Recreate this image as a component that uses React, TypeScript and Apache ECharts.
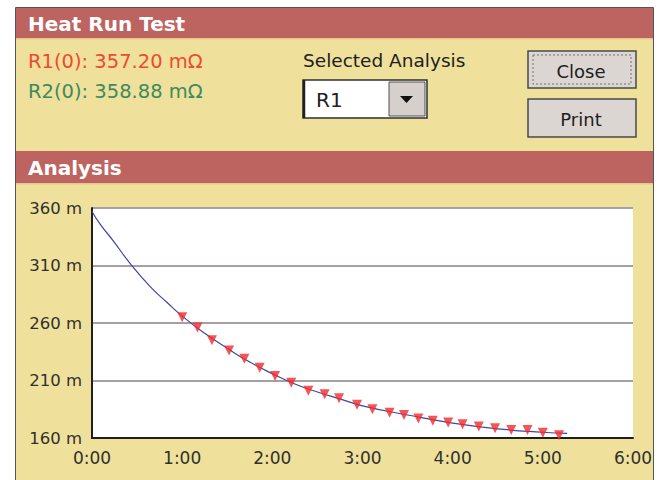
import React, { useEffect, useRef } from "react";
import * as echarts from "echarts";

// Fitted curve (blue line), time in hours, resistance in mΩ
const curveTime = [0, 0.09, 0.24, 0.42, 0.64, 0.83, 1.0, 1.25, 1.5, 1.75, 2.0, 2.25, 2.5, 2.75, 3.0, 3.5, 4.0, 4.5, 5.0, 5.27];
const curveValue = [357, 346, 331, 312, 292, 278, 266, 251, 238, 226, 216, 207, 200, 194, 188, 180, 173, 168, 165, 164];

// Measured points (red markers)
const markerTime = [1.0, 1.17, 1.33, 1.52, 1.69, 1.86, 2.03, 2.21, 2.4, 2.58, 2.74, 2.94, 3.11, 3.3, 3.46, 3.62, 3.78, 3.95, 4.11, 4.29, 4.47, 4.65, 4.83, 5.0, 5.18];
const markerValue = [265, 256, 245, 236, 229, 221, 214, 208, 201, 198, 194.5, 189, 185, 182, 180, 177, 175, 173.5, 172, 170, 168.5, 167, 167, 164.5, 162.5];

const xTickLabels = ["0:00", "1:00", "2:00", "3:00", "4:00", "5:00", "6:00"];
const yTickLabels = ["160 m", "210 m", "260 m", "310 m", "360 m"];
const yBase = 160;

const FONT = "DejaVu Sans";

export default function App() {
  const ref = useRef<HTMLDivElement>(null);
  useEffect(() => {
    if (!ref.current) return;
    const chart = echarts.init(ref.current, null, { renderer: "svg" });
    const curveData = curveTime.map((t, i) => [t, curveValue[i] - yBase]);
    const markerData = markerTime.map((t, i) => [t, markerValue[i] - yBase]);
    chart.setOption({
      animation: false,
      backgroundColor: "#ffffff",
      graphic: [
        // outer frame
        { type: "rect", shape: { x: 15.5, y: 7.5, width: 638, height: 480 }, style: { fill: "#EFE19C", stroke: "#555555", lineWidth: 1 }, z: 0 },
        // title bar
        { type: "rect", shape: { x: 16, y: 8, width: 637, height: 30 }, style: { fill: "#BD6461" }, z: 1 },
        { type: "rect", shape: { x: 16, y: 38, width: 637, height: 1.5 }, style: { fill: "#E4C890" }, z: 1 },
        { type: "text", x: 28, y: 24, style: { text: "Heat Run Test", fill: "#ffffff", font: `bold 20px ${FONT}`, textVerticalAlign: "middle" }, z: 2 },
        // R values
        { type: "text", x: 28, y: 61, style: { text: "R1(0): 357.20 mΩ", fill: "#EE4A32", font: `19.5px ${FONT}`, textVerticalAlign: "middle" }, z: 2 },
        { type: "text", x: 28, y: 91, style: { text: "R2(0): 358.88 mΩ", fill: "#3E8A5C", font: `19.5px ${FONT}`, textVerticalAlign: "middle" }, z: 2 },
        // selected analysis
        { type: "text", x: 303, y: 60, style: { text: "Selected Analysis", fill: "#202020", font: `18.5px ${FONT}`, textVerticalAlign: "middle" }, z: 2 },
        { type: "rect", shape: { x: 303, y: 80, width: 124, height: 38 }, style: { fill: "#ffffff", stroke: "#303030", lineWidth: 1.5 }, z: 2 },
        { type: "line", shape: { x1: 304, y1: 80, x2: 304, y2: 118 }, style: { stroke: "#202020", lineWidth: 2.5 }, z: 3 },
        { type: "text", x: 316, y: 100, style: { text: "R1", fill: "#202020", font: `20px ${FONT}`, textVerticalAlign: "middle" }, z: 3 },
        { type: "rect", shape: { x: 389, y: 82, width: 36, height: 34 }, style: { fill: "#D6D0CC", stroke: "#505050", lineWidth: 1 }, z: 3 },
        { type: "polygon", shape: { points: [[400, 96], [413, 96], [406.5, 103]] }, style: { fill: "#101010" }, z: 4 },
        // buttons
        { type: "rect", shape: { x: 528, y: 51, width: 108, height: 37 }, style: { fill: "#DCD6D2", stroke: "#4A4A4A", lineWidth: 1.5 }, z: 2 },
        { type: "rect", shape: { x: 533, y: 55, width: 98, height: 29 }, style: { fill: "none", stroke: "#707070", lineWidth: 1, lineDash: [2, 2] }, z: 3 },
        { type: "text", x: 581, y: 71, style: { text: "Close", fill: "#202020", font: `18px ${FONT}`, textAlign: "center", textVerticalAlign: "middle" }, z: 3 },
        { type: "rect", shape: { x: 528, y: 99, width: 108, height: 38 }, style: { fill: "#DCD6D2", stroke: "#4A4A4A", lineWidth: 1.5 }, z: 2 },
        { type: "text", x: 581, y: 119, style: { text: "Print", fill: "#202020", font: `18px ${FONT}`, textAlign: "center", textVerticalAlign: "middle" }, z: 3 },
        // analysis bar
        { type: "rect", shape: { x: 16, y: 151, width: 637, height: 32 }, style: { fill: "#BD6461" }, z: 1 },
        { type: "rect", shape: { x: 16, y: 183, width: 637, height: 1.5 }, style: { fill: "#E4C890" }, z: 1 },
        { type: "text", x: 28, y: 168, style: { text: "Analysis", fill: "#ffffff", font: `bold 20px ${FONT}`, textVerticalAlign: "middle" }, z: 2 },
      ],
      grid: {
        left: 92,
        top: 208,
        right: 25,
        bottom: 42,
        show: true,
        backgroundColor: "#ffffff",
        borderWidth: 0,
        z: 3,
      },
      xAxis: {
        type: "value",
        min: 0,
        max: 6,
        interval: 1,
        axisLine: { show: true, lineStyle: { color: "#202020", width: 2 } },
        axisTick: { show: false },
        splitLine: { show: false },
        axisLabel: {
          color: "#303030",
          fontFamily: FONT,
          fontSize: 17,
          margin: 11,
          formatter: (v: number) => xTickLabels[Math.round(v)] ?? "",
        },
        z: 5,
      },
      yAxis: {
        type: "value",
        min: 0,
        max: 200,
        interval: 50,
        axisLine: { show: true, lineStyle: { color: "#202020", width: 2 } },
        axisTick: { show: false },
        splitLine: { show: true, lineStyle: { color: "#A8A0A0", width: 2 } },
        axisLabel: {
          color: "#303030",
          fontFamily: FONT,
          fontSize: 16.5,
          margin: 10,
          formatter: (v: number) => yTickLabels[Math.round(v / 50)] ?? "",
        },
        z: 5,
      },
      series: [
        {
          type: "line",
          data: curveData,
          smooth: true,
          showSymbol: false,
          lineStyle: { color: "#3A48A8", width: 1.2 },
          z: 6,
        },
        {
          type: "scatter",
          data: markerData,
          symbol: "triangle",
          symbolRotate: 180,
          symbolSize: 10,
          itemStyle: { color: "#F22A2A" },
          z: 7,
        },
      ],
    });
    return () => chart.dispose();
  }, []);
  return <div ref={ref} style={{ position: "absolute", left: 0, top: 0, width: 658, height: 480 }} />;
}
